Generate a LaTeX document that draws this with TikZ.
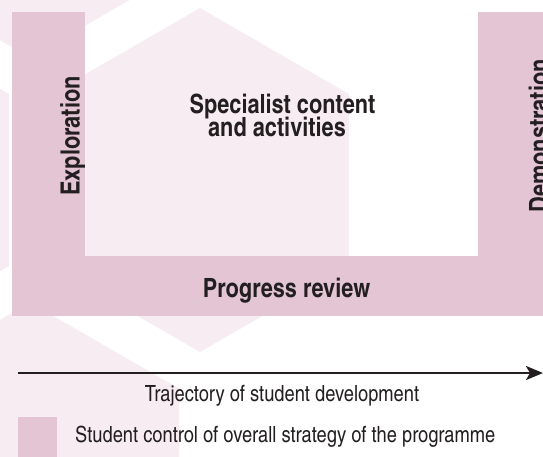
\documentclass[tikz,border=0pt]{standalone}
\usepackage{fontspec}
\setmainfont{texgyreheroscn}[Extension=.otf,UprightFont=*-regular,BoldFont=*-bold]
\usetikzlibrary{arrows.meta}
\definecolor{barpink}{RGB}{227,197,212}
\definecolor{hexpink}{RGB}{246,236,241}
\definecolor{ink}{RGB}{35,31,32}
\tikzset{
  hexbg/.style={fill=hexpink},
  barfill/.style={fill=barpink},
  boldlabel/.style={font=\bfseries\fontsize{26.5}{28}\selectfont, text=ink, inner sep=0pt, anchor=base},
  plainlabel/.style={font=\fontsize{22.3}{26}\selectfont, text=ink, inner sep=0pt, anchor=base},
  trajectory/.style={draw=ink, line width=2.4pt, -{Stealth[length=17pt,width=14pt,inset=4pt]}}
}
\begin{document}
\begin{tikzpicture}[x=1pt,y=-1pt]
\useasboundingbox (0,0) rectangle (543,456);
\clip (0,0) rectangle (543,456);
% background honeycomb
\foreach \cx/\cy in {200/180, 30/-114.5, -140/180, 30/474.5} {
  \fill[hexbg] (\cx,\cy) +(30:172) -- +(90:172) -- +(150:172) -- +(210:172) -- +(270:172) -- +(330:172) -- cycle;
}
% U-shaped bars
\fill[barfill] (12,12) rectangle (85,316);
\fill[barfill] (12,256) rectangle (560,316);
\fill[barfill] (478,12) rectangle (560,316);
% labels
\node[boldlabel, rotate=90] (explo) at (79.5,136) {Exploration};
\node[boldlabel, rotate=90] (demo) at (548,136) {Demonstration};
\node[boldlabel] (spec1) at (282.5,113) {Specialist content};
\node[boldlabel] (spec2) at (277,136) {and activities};
\node[boldlabel] (prog) at (286.5,297) {Progress review};
% trajectory arrow
\coordinate (ts) at (18,373);
\coordinate (te) at (543,373);
\draw[trajectory] (ts) -- (te);
\node[plainlabel] (traj) at (282,401) {Trajectory of student development};
% legend
\fill[barfill] (18,417) rectangle (57,460);
\node[plainlabel, anchor=base west] (legend) at (75,442) {Student control of overall strategy of the programme};
\end{tikzpicture}
\end{document}
